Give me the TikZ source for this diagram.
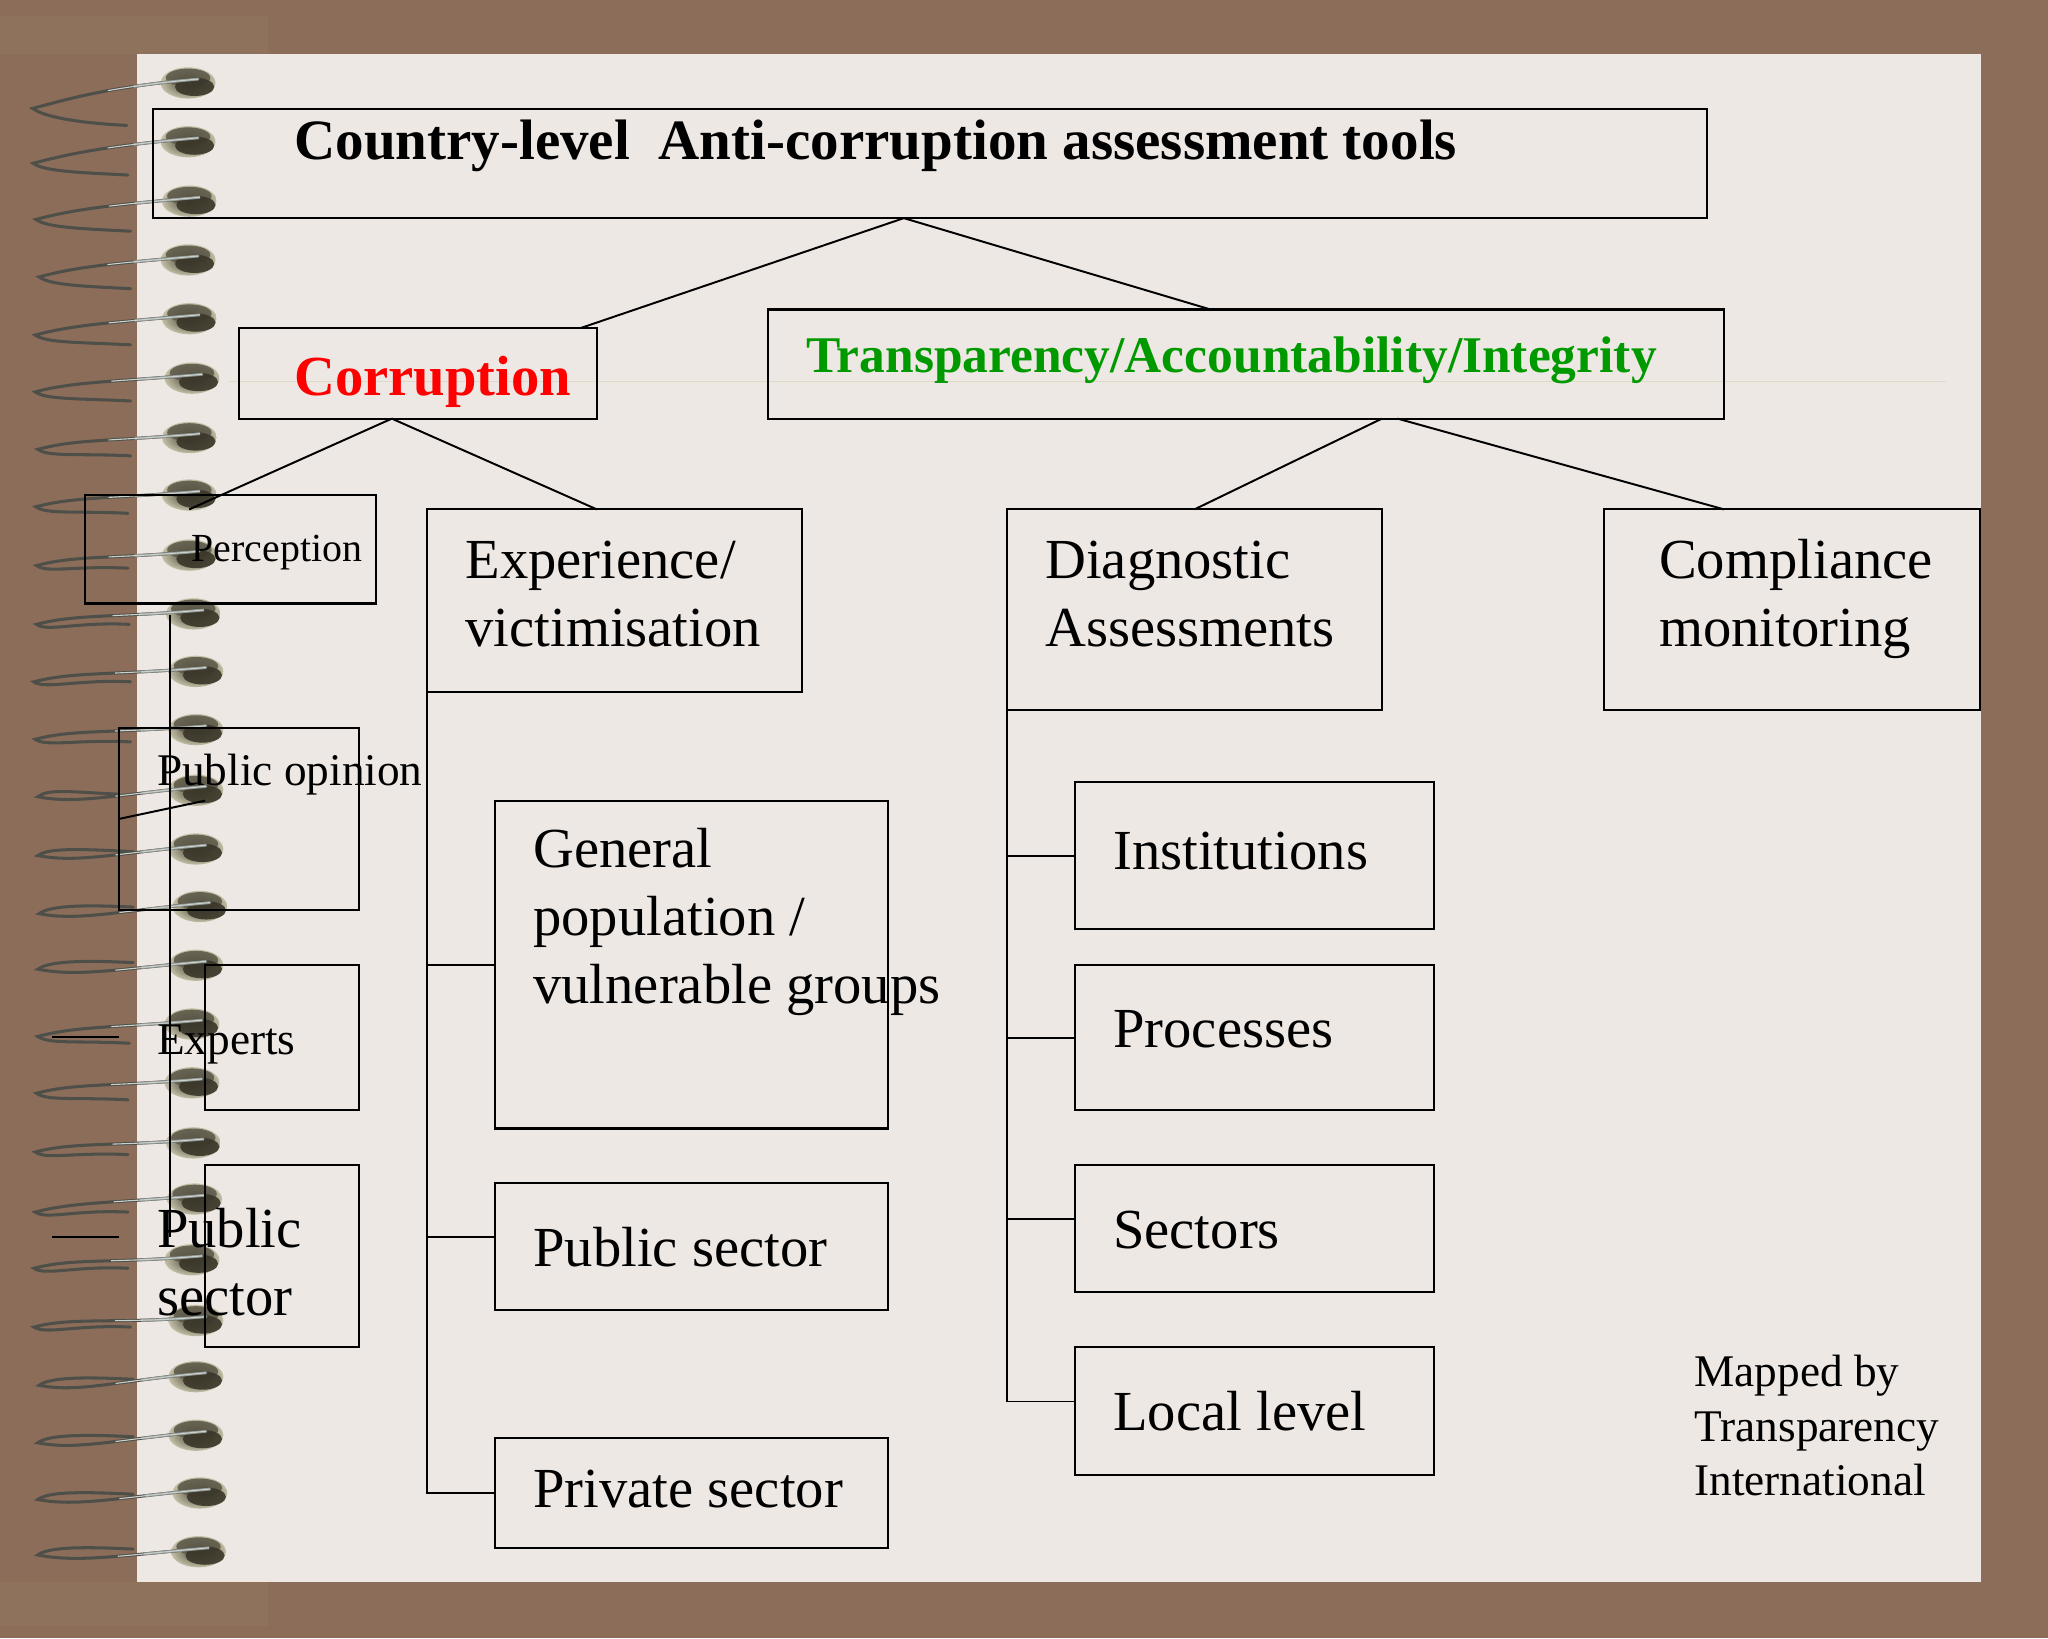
\documentclass[tikz,border=0pt]{standalone}
\usepackage{fontspec}
\setmainfont{Liberation Serif}
\usetikzlibrary{positioning, fit}
\definecolor{deskbrown}{HTML}{8C6D59}
\definecolor{deskpatch}{HTML}{8F725C}
\definecolor{paper}{HTML}{EEE8E5}
\definecolor{paleline}{HTML}{DDDAC6}
\definecolor{wiredark}{HTML}{4F4F49}
\definecolor{wirelight}{HTML}{B4BDB6}
\definecolor{ballpale}{HTML}{C4BFA6}
\definecolor{ballmid}{HTML}{5A5646}
\definecolor{balldark}{HTML}{3A3629}
\definecolor{tigreen}{HTML}{009A00}
\tikzstyle{box} = [draw, line width=1pt, inner sep=0pt, outer sep=0pt]
\tikzstyle{link} = [line width=0.9pt]
\tikzstyle{big} = [inner sep=0pt, anchor=base west, align=left, font=\fontsize{26}{31.2}\selectfont]
\tikzstyle{small} = [inner sep=0pt, anchor=base west, align=left, font=\fontsize{20.8}{25}\selectfont]
\tikzstyle{wire} = [line width=1.4pt, wiredark, line cap=round]
\tikzstyle{wirenear} = [line width=1.3pt, wirelight!80!black]
\tikzstyle{shine} = [line width=0.5pt, wirelight!70!white]
\begin{document}
\begin{tikzpicture}[x=0.6pt, y=-0.6pt]
    \fill[deskbrown] (0,0) rectangle (1568,1254.1);
    \fill[deskpatch] (0,12) rectangle (205,41);
    \fill[deskpatch] (0,1211) rectangle (205,1245);
    \fill[paper] (105,41) rectangle (1517,1211);
    \draw[paleline, line width=0.6pt] (175,292) -- (1490,292);

    % spiral binding: ball x/y, loop tip x/y, wire end x/y, loop bulge
    \foreach \bx/\by/\tx/\ty/\ex/\ey/\b in {
        144/63.5/25/83/97/96/0, 144/108.5/25.5/125/98/134/0, 145/154/27.5/168/100/177/0,
        144/199/30/212/100/221/0, 145/244/27/256.5/100/264/0, 147/289.5/27/300/100/307/0,
        145/335/29/344/100/349/0, 145/379/27.5/388/98/393/0, 145/425/28/433/98/435/0,
        148/470/28/478/99/478/0, 150/514/26/522/100/522/0, 150/558.6/27/566/100/568/0,
        150/605/29/610/90/608/1, 150/650/29/655/102/652/1, 153/694/30/699.5/102/694.5/1,
        150/739/29/742/102/737/1, 147/784/29/793.5/99/798.7/0, 147/829/28/837/98/842/0,
        148/875/27/882/98/884/0, 149/918/27/928/98/928/0, 147/964.5/26/971/98/971/0,
        150/1011/26/1016/100/1016/0, 150/1054/30/1060.6/102/1056/1, 150/1098.8/29/1104.6/102/1100/1,
        153/1143/29/1148/102/1144/1, 152/1188/29/1190.5/102/1186/1} {
        \shade[inner color=balldark, outer color=ballpale] (\bx,\by) ellipse (21 and 12);
        \fill[ballmid, opacity=0.85] (\bx,\by-4) ellipse (17 and 7);
        \fill[balldark, opacity=0.9] (\bx+5,\by+3) ellipse (15 and 7);
        \draw[wire] (\bx+8,\by-3) .. controls (\bx-60,\by+3) and (\tx+30,\ty-8+14*\b) .. (\tx,\ty)
            .. controls (\tx+8,\ty+6-12*\b) and (\ex-40,\ey-2) .. (\ex,\ey);
        \draw[wirenear, dash pattern=on 30pt off 500pt] (\bx+8,\by-3) .. controls (\bx-60,\by+3) and (\tx+30,\ty-8+14*\b) .. (\tx,\ty);
        \draw[shine, dash pattern=on 42pt off 500pt] (\bx+8,\by-3) .. controls (\bx-60,\by+3) and (\tx+30,\ty-8+14*\b) .. (\tx,\ty);
    }

    \node[box, fit={(117,83.5)(1307,167)}] (country) {};
    \node[box, fit={(183,251)(457,320.5)}] (corruption) {};
    \node[box, fit={(588,237)(1320,320.5)}] (transparency) {};
    \node[box, fit={(65,379)(288,462)}] (perception) {};
    \node[box, fit={(327,390)(614,529.5)}] (experience) {};
    \node[box, fit={(771,390)(1058,543.5)}] (diagnostic) {};
    \node[box, fit={(1228,390)(1516,543.5)}] (compliance) {};
    \node[box, fit={(91,557.5)(275,696.5)}] (opinion) {};
    \node[box, fit={(157,739)(275,850)}] (experts) {};
    \node[box, fit={(157,892)(275,1031)}] (publicleft) {};
    \node[box, fit={(379,613.5)(680,864)}] (general) {};
    \node[box, fit={(379,906)(680,1003)}] (publicright) {};
    \node[box, fit={(379,1101)(680,1185)}] (private) {};
    \node[box, fit={(823,599)(1098,711)}] (institutions) {};
    \node[box, fit={(823,739)(1098,850)}] (processes) {};
    \node[box, fit={(823,892)(1098,989)}] (sectors) {};
    \node[box, fit={(823,1031)(1098,1129)}] (local) {};

    \node[big, font=\fontsize{26.2}{31.2}\selectfont\bfseries] (countrytxt) at (225,122) {Country-level\ \ Anti-corruption assessment tools};
    \node[big, font=\fontsize{26}{31.2}\selectfont\bfseries, text=red] (corruptiontxt) at (225,302.5) {Corruption};
    \node[big, font=\fontsize{23.65}{28}\selectfont\bfseries, text=tigreen] (transparencytxt) at (617,285) {Transparency/Accountability/Integrity};
    \node[small, font=\fontsize{18.3}{22}\selectfont] (perceptiontxt) at (146.5,430) {Perception};
    \node[small] (opiniontxt) at (120,601) {Public opinion};
    \node[small] (expertstxt) at (120,807) {Experts};
    \node[big] (publiclefttxt) at (120,1007) {Public\\sector};
    \node[big] (experiencetxt) at (356,495) {Experience/\\victimisation};
    \node[big] (diagnostictxt) at (800,495) {Diagnostic\\Assessments};
    \node[big] (compliancetxt) at (1270,495) {Compliance\\monitoring};
    \node[big] (generaltxt) at (408,768) {General\\population /\\vulnerable groups};
    \node[big] (publicrighttxt) at (408,970) {Public sector};
    \node[big] (privatetxt) at (408,1154) {Private sector};
    \node[big] (institutionstxt) at (852,666) {Institutions};
    \node[big] (processestxt) at (852,802) {Processes};
    \node[big] (sectorstxt) at (852,956) {Sectors};
    \node[big] (localtxt) at (852,1095) {Local level};
    \node[small] (mappedtxt) at (1297,1145) {Mapped by\\Transparency\\International};

    \coordinate (trunktop) at (130,471);
    \coordinate (trunkend) at (130,947);
    \coordinate (slantend) at (157,613);
    \coordinate (stubone) at (40,794);
    \coordinate (stubtwo) at (40,947);
    \coordinate (stubonend) at (91,794);
    \coordinate (stubtwoend) at (91,947);

    \draw[link] ([xshift=-12pt]country.south) -- ([xshift=75pt]corruption.north);
    \draw[link] ([xshift=-12pt]country.south) -- ([xshift=-16.2pt]transparency.north);
    \draw[link] ([xshift=-12pt]corruption.south) -- ([xshift=-19pt,yshift=-6.6pt]perception.north);
    \draw[link] ([xshift=-12pt]corruption.south) -- ([xshift=-8.1pt]experience.north);
    \draw[link] ([xshift=62.4pt]transparency.south) -- (diagnostic.north);
    \draw[link] ([xshift=69.6pt]transparency.south) -- ([xshift=-31.2pt]compliance.north);
    \draw[link] (trunktop) -- (trunkend);
    \draw[link] (opinion.west) -- (slantend);
    \draw[link] (stubone) -- (stubonend);
    \draw[link] (stubtwo) -- (stubtwoend);
    \draw[link] (experience.south west) |- (general.west);
    \draw[link] (experience.south west) |- ([yshift=4.5pt]publicright.west);
    \draw[link] (experience.south west) |- (private.west);
    \draw[link] (diagnostic.south west) |- (institutions.west);
    \draw[link] (diagnostic.south west) |- (processes.west);
    \draw[link] (diagnostic.south west) |- ([yshift=4.5pt]sectors.west);
    \draw[link] (diagnostic.south west) |- ([yshift=4.2pt]local.west);
\end{tikzpicture}
\end{document}
